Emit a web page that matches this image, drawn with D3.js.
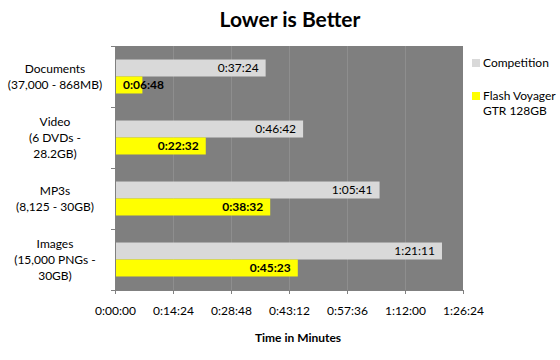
<!DOCTYPE html>
<html><head><meta charset="utf-8">
<script src="https://cdn.jsdelivr.net/npm/d3@7"></script>
<style>
html,body{margin:0;padding:0;background:#fff;}
svg{display:block;font-family:Lato,"Open Sans",sans-serif;}
</style></head>
<body><svg id="c" width="560" height="360"></svg>
<script>
const categories = [
  ["Documents","(37,000 - 868MB)"],
  ["Video","(6 DVDs -","28.2GB)"],
  ["MP3s","(8,125 - 30GB)"],
  ["Images","(15,000 PNGs -","30GB)"]
];
const seriesNames = ["Competition", "Flash Voyager GTR 128GB"];
const competition = ["0:37:24","0:46:42","1:05:41","1:21:11"];
const flashVoyager = ["0:06:48","0:22:32","0:38:32","0:45:23"];
const xTickLabels = ["0:00:00","0:14:24","0:28:48","0:43:12","0:57:36","1:12:00","1:26:24"];

const toSec = s => { const p = s.split(":").map(Number); return p[0]*3600+p[1]*60+p[2]; };
const fmt = v => { const h=Math.floor(v/3600), m=Math.floor((v%3600)/60), s=Math.round(v%60);
  return h+":"+String(m).padStart(2,"0")+":"+String(s).padStart(2,"0"); };

const svg = d3.select("#c");
const L=115, R=463, T=46, B=290;
const xTicks = xTickLabels.map(toSec);
const x = d3.scaleLinear().domain([0, d3.max(xTicks)]).range([L, R]);
const y = d3.scaleBand().domain(categories.map((d,i)=>i)).range([T, B]);
const bw = y.bandwidth();
const grp = bw*0.557;
const sub = d3.scaleBand().domain([0,1]).range([(bw-grp)/2, (bw+grp)/2]);
const colors = ["#d9d9d9", "#ffff00"];

// plot area
svg.append("rect").attr("x",L).attr("y",T).attr("width",R-L).attr("height",B-T).attr("fill","#7f7f7f");
// gridlines
svg.append("g").selectAll("line").data(xTicks.slice(1,-1)).join("line")
  .attr("x1",d=>x(d)+0.5).attr("x2",d=>x(d)+0.5).attr("y1",T).attr("y2",B)
  .attr("stroke","#8e8e8e").attr("stroke-width",1);

const data = [competition, flashVoyager];
data.forEach((ser, si) => {
  const g = svg.append("g");
  g.selectAll("rect").data(ser).join("rect")
    .attr("x", x(0)).attr("y", (d,i)=>y(i)+sub(si))
    .attr("width", d=>x(toSec(d))-x(0)).attr("height", sub.bandwidth())
    .attr("fill", colors[si]);
  g.selectAll("text").data(ser).join("text")
    .text(d=>fmt(toSec(d)))
    .attr("y",(d,i)=>y(i)+sub(si)+sub.bandwidth()/2+4)
    .attr("font-size",12).attr("font-weight", si===1?"bold":"normal")
    .attr("fill","#000").attr("text-anchor","end")
    .attr("x", function(d){ const w=this.getComputedTextLength(); return Math.max(x(toSec(d))-7, x(0)+8+w); });
});

// x axis
const xa = svg.append("g").attr("transform",`translate(0,${B})`)
  .call(d3.axisBottom(x).tickValues(xTicks).tickFormat(fmt).tickSize(4).tickPadding(12));
xa.select(".domain").attr("stroke","#808080").attr("d",`M${L},0.5H${R}`);
xa.selectAll(".tick line").attr("stroke","#808080");
xa.selectAll(".tick text").attr("font-size",12).attr("fill","#000").attr("font-family","Lato,'Open Sans',sans-serif");

// y axis
const ya = svg.append("g");
ya.append("line").attr("x1",L+0.5).attr("x2",L+0.5).attr("y1",T).attr("y2",B).attr("stroke","#808080");
ya.selectAll("line.t").data(d3.range(categories.length+1)).join("line").attr("class","t")
  .attr("x1",L-4).attr("x2",L).attr("y1",d=>T+d*bw+0.5).attr("y2",d=>T+d*bw+0.5).attr("stroke","#808080");
categories.forEach((lines,i)=>{
  const cy = y(i)+bw/2;
  const lh = 16;
  const t = ya.append("text").attr("text-anchor","middle").attr("font-size",12).attr("fill","#000");
  lines.forEach((ln,j)=>{
    t.append("tspan").attr("x",55).attr("y", cy + (j-(lines.length-1)/2)*lh + 4).text(ln);
  });
});

// title
svg.append("text").attr("x",290).attr("y",27).attr("text-anchor","middle")
  .attr("font-size",21).attr("font-weight","bold").text("Lower is Better");
svg.append("text").attr("x",298).attr("y",342).attr("text-anchor","middle")
  .attr("font-size",12).attr("font-weight","bold").text("Time in Minutes");

// legend
const leg = svg.append("g");
const legLines = [["Competition"],["Flash Voyager","GTR 128GB"]];
const legY = [59, 92];
legLines.forEach((lines,i)=>{
  leg.append("rect").attr("x",472).attr("y",legY[i]).attr("width",8).attr("height",8).attr("fill",colors[i]);
  const t = leg.append("text").attr("font-size",12).attr("fill","#000");
  lines.forEach((ln,j)=>t.append("tspan").attr("x",483).attr("y",legY[i]+8+j*15).text(ln));
});
</script></body></html>
